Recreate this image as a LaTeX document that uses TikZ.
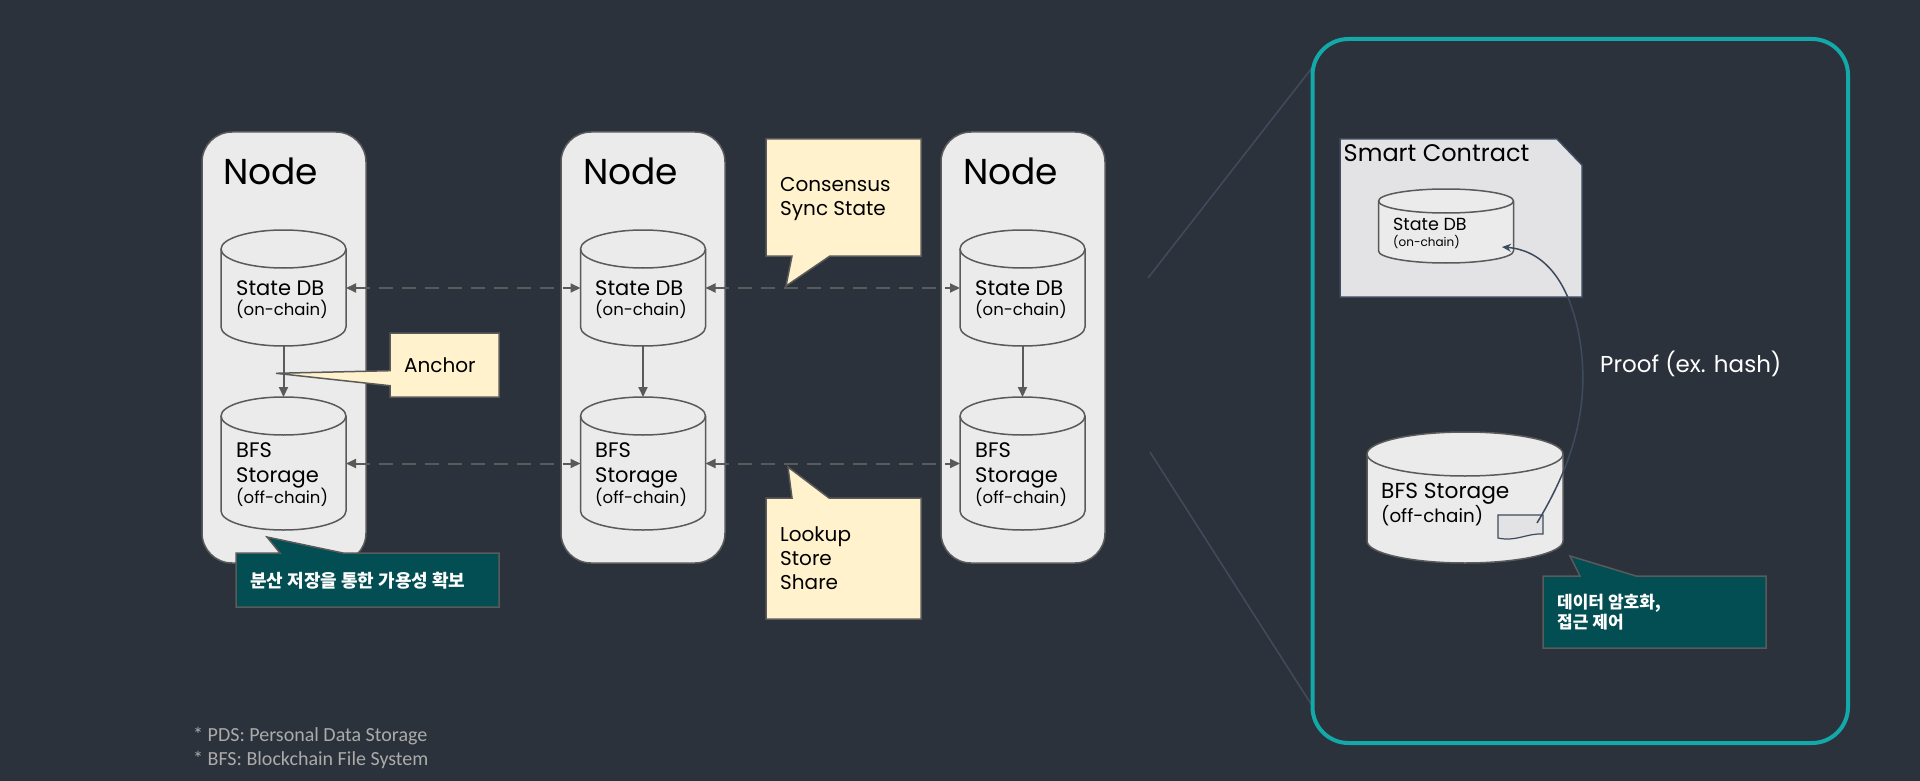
\documentclass[tikz,border=0pt]{standalone}
\usepackage{fontspec}
\setmainfont{Poppins}
\newfontfamily\krfont{Noto Sans CJK KR}
\newfontfamily\notefont{Carlito}
\usetikzlibrary{arrows.meta}
\definecolor{bg}{HTML}{2B323C}
\definecolor{boxfill}{HTML}{EBEBEB}
\definecolor{boxline}{HTML}{5A5A5A}
\definecolor{yel}{HTML}{FFF2CC}
\definecolor{tdark}{HTML}{024E52}
\definecolor{teal}{HTML}{13A9A8}
\definecolor{slate}{HTML}{3E4B5E}
\definecolor{divline}{HTML}{3F4C5C}
\definecolor{notegrey}{HTML}{ABABAB}
\definecolor{scfill}{HTML}{E3E2E4}
\definecolor{arrgrey}{HTML}{5A5A5A}
\newcommand\dbcyl[6]{%
  \node[cylbox, minimum width=#3pt, minimum height=#4pt] (#1) at (#2) {};
  \path[cylstyle] ([yshift=-#6pt]#1.north west) -- ([yshift=#6pt]#1.south west)
    arc[start angle=180, end angle=360, x radius=#5pt, y radius=#6pt]
    -- ([yshift=-#6pt]#1.north east)
    arc[start angle=0, end angle=180, x radius=#5pt, y radius=#6pt] -- cycle;
  \draw[cylline] ([yshift=-#6pt]#1.north west)
    arc[start angle=180, end angle=360, x radius=#5pt, y radius=#6pt];
}
\begin{document}
\begin{tikzpicture}[x=1pt,y=-1pt,
  nodebox/.style={rectangle, rounded corners=30pt, fill=boxfill, draw=boxline, line width=1.5pt, inner sep=0pt, outer sep=0pt},
  cylbox/.style={rectangle, draw=none, inner sep=0pt, outer sep=0pt},
  cylstyle/.style={fill=boxfill, draw=boxline, line width=1.5pt},
  cylline/.style={draw=boxline, line width=1.5pt},
  title/.style={font=\fontsize{36}{40}\selectfont, text=black, inner sep=0pt, anchor=base west},
  dbtext/.style={font=\fontsize{21}{24}\selectfont, text=black, inner sep=0pt, anchor=base west},
  dbsub/.style={font=\fontsize{16.5}{20}\selectfont, text=black, inner sep=0pt, anchor=base west},
  cotext/.style={font=\fontsize{20}{24}\selectfont, text=black, inner sep=0pt, anchor=base west},
  ycallout/.style={fill=yel, draw=boxline, line width=1.5pt},
  tcallout/.style={fill=tdark, draw=boxline, line width=1.5pt},
  krtext/.style={font=\krfont\bfseries\fontsize{18}{22}\selectfont, text=white, inner sep=0pt, anchor=base west},
  krsmall/.style={font=\krfont\bfseries\fontsize{17}{21}\selectfont, text=white, inner sep=0pt, anchor=base west},
  solidarr/.style={draw=arrgrey, line width=2pt, -{Triangle[length=10pt,width=9pt]}},
  dasharr/.style={draw=arrgrey, line width=2pt, dash pattern=on 14pt off 9pt, {Triangle[length=10pt,width=9pt]}-{Triangle[length=10pt,width=9pt]}},
  divider/.style={draw=divline, line width=1.5pt},
  note/.style={font=\notefont\fontsize{20}{24}\selectfont, text=notegrey, inner sep=0pt, anchor=base west}
]
\useasboundingbox[fill=bg] (0,0) rectangle (1920,781);

% ---- node boxes ----
\node[nodebox, minimum width=164pt, minimum height=431pt] (n1) at (284,347.5) {};
\node[nodebox, minimum width=164pt, minimum height=431pt] (n2) at (643,347.5) {};
\node[nodebox, minimum width=164pt, minimum height=431pt] (n3) at (1023,347.5) {};
\node[title] (t1) at (223,185) {Node};
\node[title] (t2) at (583,185) {Node};
\node[title] (t3) at (963,185) {Node};

% ---- cylinders ----
\dbcyl{s1}{283.5,288}{125}{116}{62.5}{19}
\dbcyl{s2}{643,288}{125}{116}{62.5}{19}
\dbcyl{s3}{1022.5,288}{125}{116}{62.5}{19}
\dbcyl{b1}{283.5,463.5}{125}{133}{62.5}{19}
\dbcyl{b2}{643,463.5}{125}{133}{62.5}{19}
\dbcyl{b3}{1022.5,463.5}{125}{133}{62.5}{19}

\foreach \i/\x in {1/236,2/595,3/975}{
  \node[dbtext] (sl\i) at (\x,295) {State DB};
  \node[dbsub] (so\i) at (\x,315) {(on-chain)};
  \node[dbtext] (bl\i) at (\x,457) {BFS};
  \node[dbtext] (bs\i) at (\x,482) {Storage};
  \node[dbsub] (bo\i) at (\x,503) {(off-chain)};
}

% ---- arrows ----
\draw[solidarr] (s1) -- (b1);
\draw[solidarr] (s2) -- (b2);
\draw[solidarr] (s3) -- (b3);
\draw[dasharr] (s1.east) -- (s2.west);
\draw[dasharr] (s2.east) -- (s3.west);
\draw[dasharr] (b1.east) -- (b2.west);
\draw[dasharr] (b2.east) -- (b3.west);

% ---- callouts ----
\path[ycallout] (390,333) -- (499,333) -- (499,397) -- (390,397) -- (390,385.7) -- (276,373.3) -- (390,370.7) -- cycle;
\node[cotext] (anch) at (404,372) {Anchor};

\path[ycallout] (766,139) -- (921,139) -- (921,256) -- (830,256) -- (786,286) -- (792,256) -- (766,256) -- cycle;
\node[cotext] (cons1) at (780,191) {Consensus};
\node[cotext] (cons2) at (780,215) {Sync State};

\path[ycallout] (766,498) -- (792,498) -- (788,467) -- (829,498) -- (921,498) -- (921,619) -- (766,619) -- cycle;
\node[cotext] (look1) at (780,541) {Lookup};
\node[cotext] (look2) at (780,565) {Store};
\node[cotext] (look3) at (780,589) {Share};

\path[tcallout] (236,553) -- (280,553) -- (267,537) -- (343,553) -- (499,553) -- (499,607) -- (236,607) -- cycle;
\node[krtext] (avail) at (250,587) {분산 저장을 통한 가용성 확보};

% ---- dividers ----
\coordinate (dv1a) at (1148,278);
\coordinate (dv1b) at (1315,64);
\coordinate (dv2a) at (1150,452);
\coordinate (dv2b) at (1313,707);
\draw[divider] (dv1a) -- (dv1b);
\draw[divider] (dv2a) -- (dv2b);

% ---- detail panel ----
\node[draw=teal, line width=4pt, rounded corners=36pt, minimum width=535.5pt, minimum height=704pt, inner sep=0pt] (panel) at (1580.25,391) {};

\path[fill=scfill, draw=slate, line width=1.5pt] (1340,139) -- (1557,139) -- (1582,165) -- (1582,297) -- (1340,297) -- cycle;
\node[font=\fontsize{24}{28}\selectfont, text=black, inner sep=0pt, anchor=base west] (sc) at (1343.5,161) {Smart Contract};

\dbcyl{sdb}{1446,226}{135}{74}{67.5}{12}
\node[font=\fontsize{17.5}{20}\selectfont, text=black, inner sep=0pt, anchor=base west] (sdbl) at (1393,230) {State DB};
\node[font=\fontsize{12}{14}\selectfont, text=black, inner sep=0pt, anchor=base west] (sdbo) at (1393,246) {(on-chain)};

\dbcyl{bfs}{1465,497.5}{196}{131}{98}{22}
\node[font=\fontsize{21.7}{25}\selectfont, text=black, inner sep=0pt, anchor=base west] (bfsl) at (1381,498) {BFS Storage};
\node[font=\fontsize{18.3}{22}\selectfont, text=black, inner sep=0pt, anchor=base west] (bfso) at (1381,522) {(off-chain)};

\path[fill=scfill, draw=slate, line width=1.2pt] (1498,515) -- (1543,515) -- (1543,534) .. controls (1527,533) and (1516,542) .. (1498,538) -- cycle;
\coordinate (docpt) at (1537,523);
\coordinate (sdbpt) at (1502,247);
\draw[draw=slate, line width=1.5pt, -{Stealth[length=9pt,width=8pt]}] (docpt) .. controls (1575,460) and (1592,400) .. (1578,330) .. controls (1566,275) and (1540,250) .. (sdbpt);

\node[font=\fontsize{23}{27}\selectfont, text=white, inner sep=0pt, anchor=base west] (proof) at (1600,372) {Proof (ex. hash)};

\path[tcallout] (1543,576) -- (1580,576) -- (1570,556) -- (1636,576) -- (1766,576) -- (1766,648) -- (1543,648) -- cycle;
\node[krsmall] (enc1) at (1557,608) {데이터 암호화,};
\node[krsmall] (enc2) at (1557,628) {접근 제어};

% ---- notes ----
\node[note] (note1) at (193,741) {* PDS: Personal Data Storage};
\node[note] (note2) at (193,765) {* BFS: Blockchain File System};
\end{tikzpicture}
\end{document}
